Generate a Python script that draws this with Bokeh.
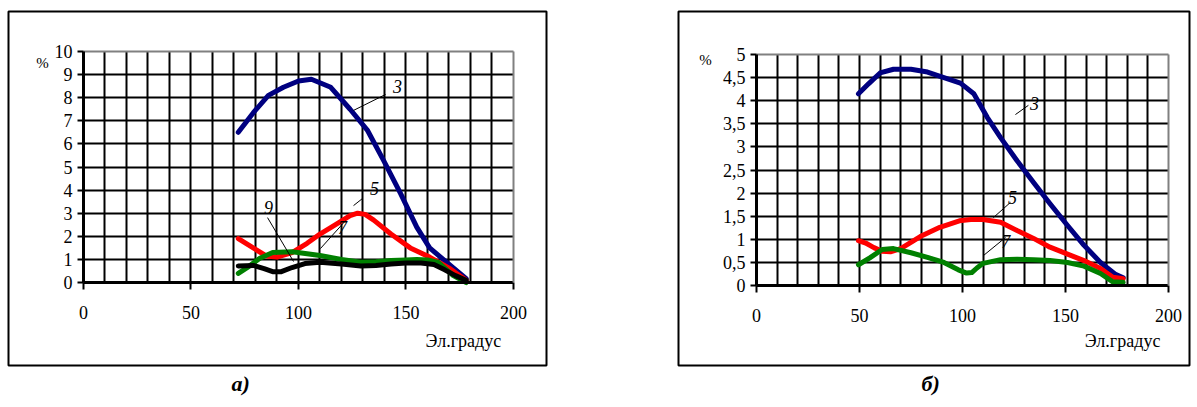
from bokeh.plotting import figure
from bokeh.models import Range1d, FixedTicker, Label, LinearAxis, Title, Grid
from bokeh.layouts import row
from bokeh.embed import file_html
from bokeh.resources import INLINE

# ---------------- data: panel а) ----------------
x3a = [72, 79, 86, 93, 100, 106, 115, 124, 132, 139.5, 147.5, 155, 161, 170.5, 178]
y3a = [6.5, 7.35, 8.1, 8.45, 8.72, 8.8, 8.45, 7.5, 6.6, 5.3, 3.85, 2.4, 1.5, 0.75, 0.17]

x5a = [72, 78, 85, 90, 97, 104, 110, 118, 124, 127.5, 131, 135, 143, 152, 161, 170.5, 178]
y5a = [1.9, 1.55, 1.15, 1.1, 1.3, 1.7, 2.1, 2.55, 2.9, 3.0, 2.95, 2.7, 2.1, 1.5, 1.1, 0.6, 0.1]

x7a = [72, 77, 82, 88, 97, 104, 110, 120, 129, 136, 143, 150, 155, 160, 165, 172, 178]
y7a = [0.4, 0.7, 1.05, 1.3, 1.33, 1.25, 1.17, 1.0, 0.88, 0.9, 0.95, 0.98, 1.0, 0.98, 0.87, 0.3, 0.0]

x9a = [72, 79, 84, 88, 92, 97, 103, 110, 120, 129, 136, 143, 150, 157, 163, 168, 173, 178]
y9a = [0.72, 0.74, 0.6, 0.47, 0.47, 0.65, 0.82, 0.88, 0.8, 0.72, 0.74, 0.8, 0.85, 0.85, 0.78, 0.55, 0.3, 0.1]

# ---------------- data: panel б) ----------------
x3b = [49.5, 54.5, 60, 66.5, 75, 83, 91, 99, 105.5, 112, 118.5, 126.5, 134.5, 142.5, 151, 159, 167, 174, 178]
y3b = [4.15, 4.37, 4.6, 4.68, 4.68, 4.62, 4.5, 4.38, 4.15, 3.64, 3.2, 2.7, 2.23, 1.77, 1.3, 0.87, 0.5, 0.25, 0.17]

x5b = [49.5, 53, 57, 61, 65, 70, 79.5, 89, 98.5, 104, 110, 118.5, 126.5, 134.5, 142.5, 151, 159, 167, 173, 178]
y5b = [0.97, 0.92, 0.82, 0.74, 0.73, 0.8, 1.06, 1.26, 1.4, 1.43, 1.43, 1.37, 1.19, 1.02, 0.83, 0.68, 0.54, 0.37, 0.18, 0.15]

x7b = [49.5, 55, 61, 66.5, 75, 83, 91, 98, 102, 104.5, 107, 110, 118.5, 126.5, 134.5, 142.5, 151, 159, 167, 173, 178]
y7b = [0.45, 0.6, 0.78, 0.8, 0.71, 0.61, 0.5, 0.34, 0.27, 0.28, 0.38, 0.48, 0.56, 0.57, 0.56, 0.54, 0.5, 0.42, 0.26, 0.08, 0.07]

x_ticks = [0, 50, 100, 150, 200]
x_grid = list(range(10, 200, 10))
y_ticks_a = list(range(0, 11))
y_ticks_b = [0, 0.5, 1, 1.5, 2, 2.5, 3, 3.5, 4, 4.5, 5]
y_labels_b = ["0", "0,5", "1", "1,5", "2", "2,5", "3", "3,5", "4", "4,5", "5"]
x_label = "Эл.градус"
y_unit = "%"

SERIF = "Liberation Serif"
NAVY, RED, GREEN, BLACK, GRAY = "#000080", "#FF0000", "#008000", "#000000", "#808080"
HAS_CB = "cross_bounds" in Grid.properties()


def base_fig(width, xr, yr, ymax, yticks, border):
    left, right, top, bottom = border
    p = figure(width=width, height=407, x_range=Range1d(*xr), y_range=Range1d(*yr),
               output_backend="svg", toolbar_location=None,
               min_border_left=left, min_border_right=right,
               min_border_top=top, min_border_bottom=bottom,
               background_fill_color="white", border_fill_color="white")
    # outer frame of the panel = plot frame outline
    p.outline_line_color = "black"
    p.outline_line_width = 2
    p.outline_line_alpha = 1

    # grids
    p.xgrid.ticker = FixedTicker(ticks=x_grid)
    p.ygrid.ticker = FixedTicker(ticks=[t for t in yticks if 0 < t < ymax])
    for g in (p.xgrid[0], p.ygrid[0]):
        g.grid_line_color = "black"
        g.grid_line_width = 2
        g.grid_line_alpha = 1.0
    if HAS_CB:
        p.xgrid.cross_bounds = (0, ymax)
        p.ygrid.cross_bounds = (0, 200)
    else:
        p.xgrid.visible = False
        p.ygrid.visible = False
        gy = [t for t in yticks if 0 < t < ymax]
        p.segment(x0=x_grid, y0=[0] * len(x_grid), x1=x_grid, y1=[ymax] * len(x_grid),
                  line_color="black", line_width=2, level="underlay")
        p.segment(x0=[0] * len(gy), y0=gy, x1=[200] * len(gy), y1=gy,
                  line_color="black", line_width=2, level="underlay")

    # main axes placed at the data origin
    p.xaxis.ticker = FixedTicker(ticks=x_ticks)
    p.yaxis.ticker = FixedTicker(ticks=yticks)
    p.xaxis.fixed_location = 0
    p.yaxis.fixed_location = 0
    p.xaxis.bounds = (0, 200)
    p.yaxis.bounds = (0, ymax)
    for ax in (p.xaxis[0], p.yaxis[0]):
        ax.axis_line_color = "black"
        ax.axis_line_width = 3
        ax.major_tick_line_color = "black"
        ax.major_tick_line_width = 2
        ax.major_tick_in = 0
        ax.minor_tick_line_color = None
        ax.major_label_text_font = SERIF
        ax.major_label_text_color = "black"
        ax.major_label_text_font_size = "18px"
    p.xaxis.major_tick_out = 7
    p.xaxis.major_label_standoff = 16
    p.yaxis.major_tick_out = 6
    p.yaxis.major_label_standoff = 5

    # gray plot-area border (top and right)
    for loc, side, bnd in ((ymax, "above", (0, 200)), (200, "right", (0, ymax))):
        ax = LinearAxis(fixed_location=loc, bounds=bnd, ticker=FixedTicker(ticks=[]),
                        axis_line_color=GRAY, axis_line_width=2,
                        major_tick_line_color=None, minor_tick_line_color=None,
                        major_label_text_color=None)
        p.add_layout(ax, side)
    return p


def add_text(p, x, y, text, size="18px", style="normal"):
    p.add_layout(Label(x=x, y=y, text=text, text_font=SERIF, text_font_size=size,
                       text_font_style=style, text_align="center", text_baseline="middle",
                       text_color="black"))


def curve(p, xs, ys, color):
    p.line(xs, ys, line_color=color, line_width=5, line_join="round", line_cap="round")


def leader(p, x0, y0, x1, y1, x2, y2, text):
    p.segment(x0=[x0], y0=[y0], x1=[x1], y1=[y1], line_color="black", line_width=1)
    add_text(p, x2, y2, text, size="18px", style="italic")


def caption(p, text, offset):
    p.add_layout(Title(text=text, align="left", offset=offset, standoff=6,
                       text_font=SERIF, text_font_size="22px", text_font_style="bold italic",
                       text_color="black"), "below")


# ---------------- panel а) ----------------
# frame box page x 8..546, y 11..365; data x0 at 83px (2.15 px/unit), y0 at 282px (23.1 px/unit)
pa = base_fig(598, (-34.88, 215.35), (-3.59, 11.73), 10, y_ticks_a, (8, 52, 11, 42))
curve(pa, x3a, y3a, NAVY)
curve(pa, x5a, y5a, RED)
curve(pa, x7a, y7a, GREEN)
curve(pa, x9a, y9a, BLACK)
leader(pa, 125.6, 7.45, 140.5, 8.14, 146, 8.48, "3")
leader(pa, 125.6, 3.33, 129.8, 3.64, 135.3, 4.07, "5")
leader(pa, 110.2, 1.47, 121.9, 2.68, 120.5, 2.4, "7")
leader(pa, 85.6, 2.81, 97.7, 0.91, 86, 3.25, "9")
add_text(pa, -19.1, 9.48, y_unit, size="15px")
add_text(pa, 176.7, -2.51, x_label, size="18px")
caption(pa, "а)", 223)

# ---------------- panel б) ----------------
# frame box page x 678..1189, y 11..365; data x0 at 756px (2.06 px/unit), y0 at 285px (46.2 px/unit)
pb = base_fig(599, (-37.86, 210.2), (-1.73, 5.93), 5, y_ticks_b, (80, 8, 11, 42))
pb.yaxis.major_label_overrides = {t: s for t, s in zip(y_ticks_b, y_labels_b)}
curve(pb, x3b, y3b, NAVY)
curve(pb, x5b, y5b, RED)
curve(pb, x7b, y7b, GREEN)
leader(pb, 125.7, 3.70, 132.0, 3.90, 135, 3.94, "3")
leader(pb, 115.0, 1.47, 123.3, 1.80, 124.3, 1.90, "5")
leader(pb, 110.2, 0.65, 120.9, 1.04, 121, 0.95, "7")
add_text(pb, -24.8, 4.89, y_unit, size="15px")
add_text(pb, 177.7, -1.19, x_label, size="18px")
caption(pb, "б)", 243)

layout = row(pa, pb)
open("out.html", "w").write(file_html(layout, INLINE))
